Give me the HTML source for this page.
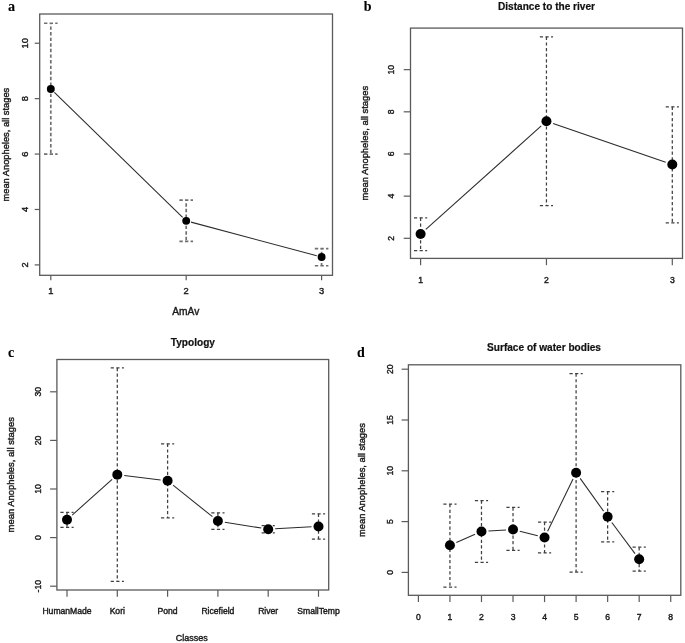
<!DOCTYPE html>
<html><head><meta charset="utf-8"><style>
html,body{margin:0;padding:0;background:#fff;}
body{width:685px;height:643px;overflow:hidden;font-family:"Liberation Sans",sans-serif;}
svg{display:block;will-change:transform;}
</style></head><body>
<svg width="685" height="643" viewBox="0 0 685 643">
<rect x="0" y="0" width="685" height="643" fill="#fff"/>
<rect x="39.7" y="14" width="292.8" height="261.3" fill="none" stroke="#5a5a5a" stroke-width="1.3"/>
<line x1="50.8" y1="275.3" x2="50.8" y2="280.3" stroke="#5a5a5a" stroke-width="1.2"/>
<text x="50.8" y="294.3" text-anchor="middle" font-size="9.3" font-weight="normal" font-family='"Liberation Sans", sans-serif' fill="#1a1a1a" stroke="#1a1a1a" stroke-width="0.4">1</text>
<line x1="186.2" y1="275.3" x2="186.2" y2="280.3" stroke="#5a5a5a" stroke-width="1.2"/>
<text x="186.2" y="294.3" text-anchor="middle" font-size="9.3" font-weight="normal" font-family='"Liberation Sans", sans-serif' fill="#1a1a1a" stroke="#1a1a1a" stroke-width="0.4">2</text>
<line x1="321.6" y1="275.3" x2="321.6" y2="280.3" stroke="#5a5a5a" stroke-width="1.2"/>
<text x="321.6" y="294.3" text-anchor="middle" font-size="9.3" font-weight="normal" font-family='"Liberation Sans", sans-serif' fill="#1a1a1a" stroke="#1a1a1a" stroke-width="0.4">3</text>
<line x1="34.7" y1="264.9" x2="39.7" y2="264.9" stroke="#5a5a5a" stroke-width="1.2"/>
<text transform="translate(28.4,264.9) rotate(-90)" text-anchor="middle" font-size="9.3" font-weight="normal" font-family='"Liberation Sans", sans-serif' fill="#1a1a1a" stroke="#1a1a1a" stroke-width="0.4">2</text>
<line x1="34.7" y1="209.48" x2="39.7" y2="209.48" stroke="#5a5a5a" stroke-width="1.2"/>
<text transform="translate(28.4,209.48) rotate(-90)" text-anchor="middle" font-size="9.3" font-weight="normal" font-family='"Liberation Sans", sans-serif' fill="#1a1a1a" stroke="#1a1a1a" stroke-width="0.4">4</text>
<line x1="34.7" y1="154.06" x2="39.7" y2="154.06" stroke="#5a5a5a" stroke-width="1.2"/>
<text transform="translate(28.4,154.06) rotate(-90)" text-anchor="middle" font-size="9.3" font-weight="normal" font-family='"Liberation Sans", sans-serif' fill="#1a1a1a" stroke="#1a1a1a" stroke-width="0.4">6</text>
<line x1="34.7" y1="98.64" x2="39.7" y2="98.64" stroke="#5a5a5a" stroke-width="1.2"/>
<text transform="translate(28.4,98.64) rotate(-90)" text-anchor="middle" font-size="9.3" font-weight="normal" font-family='"Liberation Sans", sans-serif' fill="#1a1a1a" stroke="#1a1a1a" stroke-width="0.4">8</text>
<line x1="34.7" y1="43.22" x2="39.7" y2="43.22" stroke="#5a5a5a" stroke-width="1.2"/>
<text transform="translate(28.4,43.22) rotate(-90)" text-anchor="middle" font-size="9.3" font-weight="normal" font-family='"Liberation Sans", sans-serif' fill="#1a1a1a" stroke="#1a1a1a" stroke-width="0.4">10</text>
<text transform="translate(8.6,144.65) rotate(-90)" text-anchor="middle" font-size="9.3" font-weight="normal" font-family='"Liberation Sans", sans-serif' fill="#1a1a1a" stroke="#1a1a1a" stroke-width="0.4">mean Anopheles, all stages</text>
<text x="185.75" y="314.6" text-anchor="middle" font-size="10.2" font-weight="normal" font-family='"Liberation Sans", sans-serif' fill="#1a1a1a" stroke="#1a1a1a" stroke-width="0.4">AmAv</text>
<text x="8" y="10.7" text-anchor="start" font-size="14.2" font-weight="bold" font-family='"Liberation Serif", serif' fill="#000" stroke="#000" stroke-width="0.1">a</text>
<line x1="50.8" y1="23.27" x2="50.8" y2="154.06" stroke="#707070" stroke-width="1.7" stroke-dasharray="3.4 2.2" stroke-dashoffset="2.4"/>
<line x1="44" y1="23.27" x2="57.6" y2="23.27" stroke="#707070" stroke-width="1.7" stroke-dasharray="3.4 2.2"/>
<line x1="44" y1="154.06" x2="57.6" y2="154.06" stroke="#707070" stroke-width="1.7" stroke-dasharray="3.4 2.2"/>
<line x1="186.2" y1="200.06" x2="186.2" y2="241.35" stroke="#707070" stroke-width="1.7" stroke-dasharray="3.4 2.2" stroke-dashoffset="2.4"/>
<line x1="179.4" y1="200.06" x2="193" y2="200.06" stroke="#707070" stroke-width="1.7" stroke-dasharray="3.4 2.2"/>
<line x1="179.4" y1="241.35" x2="193" y2="241.35" stroke="#707070" stroke-width="1.7" stroke-dasharray="3.4 2.2"/>
<line x1="321.6" y1="248.55" x2="321.6" y2="265.73" stroke="#707070" stroke-width="1.7" stroke-dasharray="3.4 2.2" stroke-dashoffset="2.4"/>
<line x1="314.8" y1="248.55" x2="328.4" y2="248.55" stroke="#707070" stroke-width="1.7" stroke-dasharray="3.4 2.2"/>
<line x1="314.8" y1="265.73" x2="328.4" y2="265.73" stroke="#707070" stroke-width="1.7" stroke-dasharray="3.4 2.2"/>
<line x1="54.38" y1="92.43" x2="182.62" y2="217.35" stroke="#2a2a2a" stroke-width="1.05"/>
<line x1="191.03" y1="222.13" x2="316.77" y2="255.71" stroke="#2a2a2a" stroke-width="1.05"/>
<circle cx="50.8" cy="88.94" r="3.95" fill="#000"/>
<circle cx="186.2" cy="220.84" r="3.95" fill="#000"/>
<circle cx="321.6" cy="257" r="3.95" fill="#000"/>
<rect x="410.5" y="28.1" width="272" height="230.3" fill="none" stroke="#5a5a5a" stroke-width="1.3"/>
<line x1="420.6" y1="258.4" x2="420.6" y2="265.2" stroke="#5a5a5a" stroke-width="1.2"/>
<text x="420.6" y="283.2" text-anchor="middle" font-size="8.6" font-weight="normal" font-family='"Liberation Sans", sans-serif' fill="#1a1a1a" stroke="#1a1a1a" stroke-width="0.4">1</text>
<line x1="546.45" y1="258.4" x2="546.45" y2="265.2" stroke="#5a5a5a" stroke-width="1.2"/>
<text x="546.45" y="283.2" text-anchor="middle" font-size="8.6" font-weight="normal" font-family='"Liberation Sans", sans-serif' fill="#1a1a1a" stroke="#1a1a1a" stroke-width="0.4">2</text>
<line x1="672.3" y1="258.4" x2="672.3" y2="265.2" stroke="#5a5a5a" stroke-width="1.2"/>
<text x="672.3" y="283.2" text-anchor="middle" font-size="8.6" font-weight="normal" font-family='"Liberation Sans", sans-serif' fill="#1a1a1a" stroke="#1a1a1a" stroke-width="0.4">3</text>
<line x1="403.7" y1="238.3" x2="410.5" y2="238.3" stroke="#5a5a5a" stroke-width="1.2"/>
<text transform="translate(394.4,238.3) rotate(-90)" text-anchor="middle" font-size="8.6" font-weight="normal" font-family='"Liberation Sans", sans-serif' fill="#1a1a1a" stroke="#1a1a1a" stroke-width="0.4">2</text>
<line x1="403.7" y1="196.14" x2="410.5" y2="196.14" stroke="#5a5a5a" stroke-width="1.2"/>
<text transform="translate(394.4,196.14) rotate(-90)" text-anchor="middle" font-size="8.6" font-weight="normal" font-family='"Liberation Sans", sans-serif' fill="#1a1a1a" stroke="#1a1a1a" stroke-width="0.4">4</text>
<line x1="403.7" y1="153.98" x2="410.5" y2="153.98" stroke="#5a5a5a" stroke-width="1.2"/>
<text transform="translate(394.4,153.98) rotate(-90)" text-anchor="middle" font-size="8.6" font-weight="normal" font-family='"Liberation Sans", sans-serif' fill="#1a1a1a" stroke="#1a1a1a" stroke-width="0.4">6</text>
<line x1="403.7" y1="111.82" x2="410.5" y2="111.82" stroke="#5a5a5a" stroke-width="1.2"/>
<text transform="translate(394.4,111.82) rotate(-90)" text-anchor="middle" font-size="8.6" font-weight="normal" font-family='"Liberation Sans", sans-serif' fill="#1a1a1a" stroke="#1a1a1a" stroke-width="0.4">8</text>
<line x1="403.7" y1="69.66" x2="410.5" y2="69.66" stroke="#5a5a5a" stroke-width="1.2"/>
<text transform="translate(394.4,69.66) rotate(-90)" text-anchor="middle" font-size="8.6" font-weight="normal" font-family='"Liberation Sans", sans-serif' fill="#1a1a1a" stroke="#1a1a1a" stroke-width="0.4">10</text>
<text transform="translate(368,143.25) rotate(-90)" text-anchor="middle" font-size="9.4" font-weight="normal" font-family='"Liberation Sans", sans-serif' fill="#1a1a1a" stroke="#1a1a1a" stroke-width="0.4">mean Anopheles, all stages</text>
<text x="546.5" y="9.6" text-anchor="middle" font-size="10.1" font-weight="bold" font-family='"Liberation Sans", sans-serif' fill="#111" stroke="#111" stroke-width="0.2">Distance to the river</text>
<text x="363.8" y="11.2" text-anchor="start" font-size="14.0" font-weight="bold" font-family='"Liberation Serif", serif' fill="#000" stroke="#000" stroke-width="0.1">b</text>
<line x1="420.6" y1="217.85" x2="420.6" y2="250.53" stroke="#404040" stroke-width="1.25" stroke-dasharray="3.2 2.4" stroke-dashoffset="0"/>
<line x1="414" y1="217.85" x2="427.2" y2="217.85" stroke="#404040" stroke-width="1.25" stroke-dasharray="3.2 2.4"/>
<line x1="414" y1="250.53" x2="427.2" y2="250.53" stroke="#404040" stroke-width="1.25" stroke-dasharray="3.2 2.4"/>
<line x1="546.45" y1="36.78" x2="546.45" y2="205.63" stroke="#404040" stroke-width="1.25" stroke-dasharray="3.2 2.4" stroke-dashoffset="0"/>
<line x1="539.85" y1="36.78" x2="553.05" y2="36.78" stroke="#404040" stroke-width="1.25" stroke-dasharray="3.2 2.4"/>
<line x1="539.85" y1="205.63" x2="553.05" y2="205.63" stroke="#404040" stroke-width="1.25" stroke-dasharray="3.2 2.4"/>
<line x1="672.3" y1="106.76" x2="672.3" y2="222.91" stroke="#404040" stroke-width="1.25" stroke-dasharray="3.2 2.4" stroke-dashoffset="0"/>
<line x1="665.7" y1="106.76" x2="678.9" y2="106.76" stroke="#404040" stroke-width="1.25" stroke-dasharray="3.2 2.4"/>
<line x1="665.7" y1="222.91" x2="678.9" y2="222.91" stroke="#404040" stroke-width="1.25" stroke-dasharray="3.2 2.4"/>
<line x1="425.81" y1="229.41" x2="541.24" y2="125.98" stroke="#2a2a2a" stroke-width="1.05"/>
<line x1="553.07" y1="123.58" x2="665.68" y2="162.25" stroke="#2a2a2a" stroke-width="1.05"/>
<circle cx="420.6" cy="234.08" r="5.0" fill="#000"/>
<circle cx="546.45" cy="121.31" r="5.0" fill="#000"/>
<circle cx="672.3" cy="164.52" r="5.0" fill="#000"/>
<rect x="56.9" y="359.5" width="271.8" height="230.5" fill="none" stroke="#5a5a5a" stroke-width="1.3"/>
<line x1="67" y1="590" x2="67" y2="596.8" stroke="#5a5a5a" stroke-width="1.2"/>
<text x="67" y="614.4" text-anchor="middle" font-size="8.6" font-weight="normal" font-family='"Liberation Sans", sans-serif' fill="#1a1a1a" stroke="#1a1a1a" stroke-width="0.4">HumanMade</text>
<line x1="117.3" y1="590" x2="117.3" y2="596.8" stroke="#5a5a5a" stroke-width="1.2"/>
<text x="117.3" y="614.4" text-anchor="middle" font-size="8.6" font-weight="normal" font-family='"Liberation Sans", sans-serif' fill="#1a1a1a" stroke="#1a1a1a" stroke-width="0.4">Kori</text>
<line x1="167.6" y1="590" x2="167.6" y2="596.8" stroke="#5a5a5a" stroke-width="1.2"/>
<text x="167.6" y="614.4" text-anchor="middle" font-size="8.6" font-weight="normal" font-family='"Liberation Sans", sans-serif' fill="#1a1a1a" stroke="#1a1a1a" stroke-width="0.4">Pond</text>
<line x1="217.9" y1="590" x2="217.9" y2="596.8" stroke="#5a5a5a" stroke-width="1.2"/>
<text x="217.9" y="614.4" text-anchor="middle" font-size="8.6" font-weight="normal" font-family='"Liberation Sans", sans-serif' fill="#1a1a1a" stroke="#1a1a1a" stroke-width="0.4">Ricefield</text>
<line x1="268.2" y1="590" x2="268.2" y2="596.8" stroke="#5a5a5a" stroke-width="1.2"/>
<text x="268.2" y="614.4" text-anchor="middle" font-size="8.6" font-weight="normal" font-family='"Liberation Sans", sans-serif' fill="#1a1a1a" stroke="#1a1a1a" stroke-width="0.4">River</text>
<line x1="318.5" y1="590" x2="318.5" y2="596.8" stroke="#5a5a5a" stroke-width="1.2"/>
<text x="318.5" y="614.4" text-anchor="middle" font-size="8.6" font-weight="normal" font-family='"Liberation Sans", sans-serif' fill="#1a1a1a" stroke="#1a1a1a" stroke-width="0.4">SmallTemp</text>
<line x1="50.1" y1="586.2" x2="56.9" y2="586.2" stroke="#5a5a5a" stroke-width="1.2"/>
<text transform="translate(41,586.2) rotate(-90)" text-anchor="middle" font-size="8.6" font-weight="normal" font-family='"Liberation Sans", sans-serif' fill="#1a1a1a" stroke="#1a1a1a" stroke-width="0.4">-10</text>
<line x1="50.1" y1="537.6" x2="56.9" y2="537.6" stroke="#5a5a5a" stroke-width="1.2"/>
<text transform="translate(41,537.6) rotate(-90)" text-anchor="middle" font-size="8.6" font-weight="normal" font-family='"Liberation Sans", sans-serif' fill="#1a1a1a" stroke="#1a1a1a" stroke-width="0.4">0</text>
<line x1="50.1" y1="489" x2="56.9" y2="489" stroke="#5a5a5a" stroke-width="1.2"/>
<text transform="translate(41,489) rotate(-90)" text-anchor="middle" font-size="8.6" font-weight="normal" font-family='"Liberation Sans", sans-serif' fill="#1a1a1a" stroke="#1a1a1a" stroke-width="0.4">10</text>
<line x1="50.1" y1="440.4" x2="56.9" y2="440.4" stroke="#5a5a5a" stroke-width="1.2"/>
<text transform="translate(41,440.4) rotate(-90)" text-anchor="middle" font-size="8.6" font-weight="normal" font-family='"Liberation Sans", sans-serif' fill="#1a1a1a" stroke="#1a1a1a" stroke-width="0.4">20</text>
<line x1="50.1" y1="391.8" x2="56.9" y2="391.8" stroke="#5a5a5a" stroke-width="1.2"/>
<text transform="translate(41,391.8) rotate(-90)" text-anchor="middle" font-size="8.6" font-weight="normal" font-family='"Liberation Sans", sans-serif' fill="#1a1a1a" stroke="#1a1a1a" stroke-width="0.4">30</text>
<text transform="translate(14.3,474.75) rotate(-90)" text-anchor="middle" font-size="9.45" font-weight="normal" font-family='"Liberation Sans", sans-serif' fill="#1a1a1a" stroke="#1a1a1a" stroke-width="0.4">mean Anopheles, all stages</text>
<text x="191.8" y="641.3" text-anchor="middle" font-size="9.0" font-weight="normal" font-family='"Liberation Sans", sans-serif' fill="#1a1a1a" stroke="#1a1a1a" stroke-width="0.4">Classes</text>
<text x="192.9" y="346" text-anchor="middle" font-size="10.1" font-weight="bold" font-family='"Liberation Sans", sans-serif' fill="#111" stroke="#111" stroke-width="0.2">Typology</text>
<text x="7.9" y="357.3" text-anchor="start" font-size="14.0" font-weight="bold" font-family='"Liberation Serif", serif' fill="#000" stroke="#000" stroke-width="0.1">c</text>
<line x1="67" y1="512.38" x2="67" y2="527.39" stroke="#404040" stroke-width="1.25" stroke-dasharray="3.2 2.4" stroke-dashoffset="0"/>
<line x1="60.4" y1="512.38" x2="73.6" y2="512.38" stroke="#404040" stroke-width="1.25" stroke-dasharray="3.2 2.4"/>
<line x1="60.4" y1="527.39" x2="73.6" y2="527.39" stroke="#404040" stroke-width="1.25" stroke-dasharray="3.2 2.4"/>
<line x1="117.3" y1="367.99" x2="117.3" y2="581.34" stroke="#404040" stroke-width="1.25" stroke-dasharray="3.2 2.4" stroke-dashoffset="0"/>
<line x1="110.7" y1="367.99" x2="123.9" y2="367.99" stroke="#404040" stroke-width="1.25" stroke-dasharray="3.2 2.4"/>
<line x1="110.7" y1="581.34" x2="123.9" y2="581.34" stroke="#404040" stroke-width="1.25" stroke-dasharray="3.2 2.4"/>
<line x1="167.6" y1="443.8" x2="167.6" y2="517.92" stroke="#404040" stroke-width="1.25" stroke-dasharray="3.2 2.4" stroke-dashoffset="0"/>
<line x1="161" y1="443.8" x2="174.2" y2="443.8" stroke="#404040" stroke-width="1.25" stroke-dasharray="3.2 2.4"/>
<line x1="161" y1="517.92" x2="174.2" y2="517.92" stroke="#404040" stroke-width="1.25" stroke-dasharray="3.2 2.4"/>
<line x1="217.9" y1="512.86" x2="217.9" y2="529.34" stroke="#404040" stroke-width="1.25" stroke-dasharray="3.2 2.4" stroke-dashoffset="0"/>
<line x1="211.3" y1="512.86" x2="224.5" y2="512.86" stroke="#404040" stroke-width="1.25" stroke-dasharray="3.2 2.4"/>
<line x1="211.3" y1="529.34" x2="224.5" y2="529.34" stroke="#404040" stroke-width="1.25" stroke-dasharray="3.2 2.4"/>
<line x1="268.2" y1="525.6" x2="268.2" y2="532.89" stroke="#404040" stroke-width="1.25" stroke-dasharray="3.2 2.4" stroke-dashoffset="0"/>
<line x1="261.6" y1="525.6" x2="274.8" y2="525.6" stroke="#404040" stroke-width="1.25" stroke-dasharray="3.2 2.4"/>
<line x1="261.6" y1="532.89" x2="274.8" y2="532.89" stroke="#404040" stroke-width="1.25" stroke-dasharray="3.2 2.4"/>
<line x1="318.5" y1="513.79" x2="318.5" y2="539.06" stroke="#404040" stroke-width="1.25" stroke-dasharray="3.2 2.4" stroke-dashoffset="0"/>
<line x1="311.9" y1="513.79" x2="325.1" y2="513.79" stroke="#404040" stroke-width="1.25" stroke-dasharray="3.2 2.4"/>
<line x1="311.9" y1="539.06" x2="325.1" y2="539.06" stroke="#404040" stroke-width="1.25" stroke-dasharray="3.2 2.4"/>
<line x1="72.21" y1="515.04" x2="112.09" y2="479.33" stroke="#2a2a2a" stroke-width="1.05"/>
<line x1="124.25" y1="475.5" x2="160.65" y2="479.9" stroke="#2a2a2a" stroke-width="1.05"/>
<line x1="173.06" y1="485.12" x2="212.44" y2="516.7" stroke="#2a2a2a" stroke-width="1.05"/>
<line x1="224.81" y1="522.19" x2="261.29" y2="528.08" stroke="#2a2a2a" stroke-width="1.05"/>
<line x1="275.19" y1="528.81" x2="311.51" y2="526.81" stroke="#2a2a2a" stroke-width="1.05"/>
<circle cx="67" cy="519.72" r="5.0" fill="#000"/>
<circle cx="117.3" cy="474.66" r="5.0" fill="#000"/>
<circle cx="167.6" cy="480.74" r="5.0" fill="#000"/>
<circle cx="217.9" cy="521.08" r="5.0" fill="#000"/>
<circle cx="268.2" cy="529.19" r="5.0" fill="#000"/>
<circle cx="318.5" cy="526.42" r="5.0" fill="#000"/>
<rect x="408.4" y="364.8" width="272.4" height="230.5" fill="none" stroke="#5a5a5a" stroke-width="1.3"/>
<line x1="418.4" y1="595.3" x2="418.4" y2="602.1" stroke="#5a5a5a" stroke-width="1.2"/>
<text x="418.4" y="620.2" text-anchor="middle" font-size="8.6" font-weight="normal" font-family='"Liberation Sans", sans-serif' fill="#1a1a1a" stroke="#1a1a1a" stroke-width="0.4">0</text>
<line x1="449.94" y1="595.3" x2="449.94" y2="602.1" stroke="#5a5a5a" stroke-width="1.2"/>
<text x="449.94" y="620.2" text-anchor="middle" font-size="8.6" font-weight="normal" font-family='"Liberation Sans", sans-serif' fill="#1a1a1a" stroke="#1a1a1a" stroke-width="0.4">1</text>
<line x1="481.48" y1="595.3" x2="481.48" y2="602.1" stroke="#5a5a5a" stroke-width="1.2"/>
<text x="481.48" y="620.2" text-anchor="middle" font-size="8.6" font-weight="normal" font-family='"Liberation Sans", sans-serif' fill="#1a1a1a" stroke="#1a1a1a" stroke-width="0.4">2</text>
<line x1="513.02" y1="595.3" x2="513.02" y2="602.1" stroke="#5a5a5a" stroke-width="1.2"/>
<text x="513.02" y="620.2" text-anchor="middle" font-size="8.6" font-weight="normal" font-family='"Liberation Sans", sans-serif' fill="#1a1a1a" stroke="#1a1a1a" stroke-width="0.4">3</text>
<line x1="544.56" y1="595.3" x2="544.56" y2="602.1" stroke="#5a5a5a" stroke-width="1.2"/>
<text x="544.56" y="620.2" text-anchor="middle" font-size="8.6" font-weight="normal" font-family='"Liberation Sans", sans-serif' fill="#1a1a1a" stroke="#1a1a1a" stroke-width="0.4">4</text>
<line x1="576.1" y1="595.3" x2="576.1" y2="602.1" stroke="#5a5a5a" stroke-width="1.2"/>
<text x="576.1" y="620.2" text-anchor="middle" font-size="8.6" font-weight="normal" font-family='"Liberation Sans", sans-serif' fill="#1a1a1a" stroke="#1a1a1a" stroke-width="0.4">5</text>
<line x1="607.64" y1="595.3" x2="607.64" y2="602.1" stroke="#5a5a5a" stroke-width="1.2"/>
<text x="607.64" y="620.2" text-anchor="middle" font-size="8.6" font-weight="normal" font-family='"Liberation Sans", sans-serif' fill="#1a1a1a" stroke="#1a1a1a" stroke-width="0.4">6</text>
<line x1="639.18" y1="595.3" x2="639.18" y2="602.1" stroke="#5a5a5a" stroke-width="1.2"/>
<text x="639.18" y="620.2" text-anchor="middle" font-size="8.6" font-weight="normal" font-family='"Liberation Sans", sans-serif' fill="#1a1a1a" stroke="#1a1a1a" stroke-width="0.4">7</text>
<line x1="670.72" y1="595.3" x2="670.72" y2="602.1" stroke="#5a5a5a" stroke-width="1.2"/>
<text x="670.72" y="620.2" text-anchor="middle" font-size="8.6" font-weight="normal" font-family='"Liberation Sans", sans-serif' fill="#1a1a1a" stroke="#1a1a1a" stroke-width="0.4">8</text>
<line x1="401.6" y1="572.4" x2="408.4" y2="572.4" stroke="#5a5a5a" stroke-width="1.2"/>
<text transform="translate(392.7,572.4) rotate(-90)" text-anchor="middle" font-size="8.6" font-weight="normal" font-family='"Liberation Sans", sans-serif' fill="#1a1a1a" stroke="#1a1a1a" stroke-width="0.4">0</text>
<line x1="401.6" y1="521.6" x2="408.4" y2="521.6" stroke="#5a5a5a" stroke-width="1.2"/>
<text transform="translate(392.7,521.6) rotate(-90)" text-anchor="middle" font-size="8.6" font-weight="normal" font-family='"Liberation Sans", sans-serif' fill="#1a1a1a" stroke="#1a1a1a" stroke-width="0.4">5</text>
<line x1="401.6" y1="470.8" x2="408.4" y2="470.8" stroke="#5a5a5a" stroke-width="1.2"/>
<text transform="translate(392.7,470.8) rotate(-90)" text-anchor="middle" font-size="8.6" font-weight="normal" font-family='"Liberation Sans", sans-serif' fill="#1a1a1a" stroke="#1a1a1a" stroke-width="0.4">10</text>
<line x1="401.6" y1="420" x2="408.4" y2="420" stroke="#5a5a5a" stroke-width="1.2"/>
<text transform="translate(392.7,420) rotate(-90)" text-anchor="middle" font-size="8.6" font-weight="normal" font-family='"Liberation Sans", sans-serif' fill="#1a1a1a" stroke="#1a1a1a" stroke-width="0.4">15</text>
<line x1="401.6" y1="369.2" x2="408.4" y2="369.2" stroke="#5a5a5a" stroke-width="1.2"/>
<text transform="translate(392.7,369.2) rotate(-90)" text-anchor="middle" font-size="8.6" font-weight="normal" font-family='"Liberation Sans", sans-serif' fill="#1a1a1a" stroke="#1a1a1a" stroke-width="0.4">20</text>
<text transform="translate(365.3,480.05) rotate(-90)" text-anchor="middle" font-size="9.3" font-weight="normal" font-family='"Liberation Sans", sans-serif' fill="#1a1a1a" stroke="#1a1a1a" stroke-width="0.4">mean Anopheles, all stages</text>
<text x="544" y="351.3" text-anchor="middle" font-size="10.1" font-weight="bold" font-family='"Liberation Sans", sans-serif' fill="#111" stroke="#111" stroke-width="0.2">Surface of water bodies</text>
<text x="357" y="357.4" text-anchor="start" font-size="14.0" font-weight="bold" font-family='"Liberation Serif", serif' fill="#000" stroke="#000" stroke-width="0.1">d</text>
<line x1="449.94" y1="504.12" x2="449.94" y2="587.03" stroke="#404040" stroke-width="1.25" stroke-dasharray="3.2 2.4" stroke-dashoffset="0"/>
<line x1="443.34" y1="504.12" x2="456.54" y2="504.12" stroke="#404040" stroke-width="1.25" stroke-dasharray="3.2 2.4"/>
<line x1="443.34" y1="587.03" x2="456.54" y2="587.03" stroke="#404040" stroke-width="1.25" stroke-dasharray="3.2 2.4"/>
<line x1="481.48" y1="500.57" x2="481.48" y2="562.44" stroke="#404040" stroke-width="1.25" stroke-dasharray="3.2 2.4" stroke-dashoffset="0"/>
<line x1="474.88" y1="500.57" x2="488.08" y2="500.57" stroke="#404040" stroke-width="1.25" stroke-dasharray="3.2 2.4"/>
<line x1="474.88" y1="562.44" x2="488.08" y2="562.44" stroke="#404040" stroke-width="1.25" stroke-dasharray="3.2 2.4"/>
<line x1="513.02" y1="507.48" x2="513.02" y2="550.35" stroke="#404040" stroke-width="1.25" stroke-dasharray="3.2 2.4" stroke-dashoffset="0"/>
<line x1="506.42" y1="507.48" x2="519.62" y2="507.48" stroke="#404040" stroke-width="1.25" stroke-dasharray="3.2 2.4"/>
<line x1="506.42" y1="550.35" x2="519.62" y2="550.35" stroke="#404040" stroke-width="1.25" stroke-dasharray="3.2 2.4"/>
<line x1="544.56" y1="522.01" x2="544.56" y2="552.89" stroke="#404040" stroke-width="1.25" stroke-dasharray="3.2 2.4" stroke-dashoffset="0"/>
<line x1="537.96" y1="522.01" x2="551.16" y2="522.01" stroke="#404040" stroke-width="1.25" stroke-dasharray="3.2 2.4"/>
<line x1="537.96" y1="552.89" x2="551.16" y2="552.89" stroke="#404040" stroke-width="1.25" stroke-dasharray="3.2 2.4"/>
<line x1="576.1" y1="373.57" x2="576.1" y2="572.1" stroke="#404040" stroke-width="1.25" stroke-dasharray="3.2 2.4" stroke-dashoffset="0"/>
<line x1="569.5" y1="373.57" x2="582.7" y2="373.57" stroke="#404040" stroke-width="1.25" stroke-dasharray="3.2 2.4"/>
<line x1="569.5" y1="572.1" x2="582.7" y2="572.1" stroke="#404040" stroke-width="1.25" stroke-dasharray="3.2 2.4"/>
<line x1="607.64" y1="491.63" x2="607.64" y2="541.92" stroke="#404040" stroke-width="1.25" stroke-dasharray="3.2 2.4" stroke-dashoffset="0"/>
<line x1="601.04" y1="491.63" x2="614.24" y2="491.63" stroke="#404040" stroke-width="1.25" stroke-dasharray="3.2 2.4"/>
<line x1="601.04" y1="541.92" x2="614.24" y2="541.92" stroke="#404040" stroke-width="1.25" stroke-dasharray="3.2 2.4"/>
<line x1="639.18" y1="547.2" x2="639.18" y2="571.18" stroke="#404040" stroke-width="1.25" stroke-dasharray="3.2 2.4" stroke-dashoffset="0"/>
<line x1="632.58" y1="547.2" x2="645.78" y2="547.2" stroke="#404040" stroke-width="1.25" stroke-dasharray="3.2 2.4"/>
<line x1="632.58" y1="571.18" x2="645.78" y2="571.18" stroke="#404040" stroke-width="1.25" stroke-dasharray="3.2 2.4"/>
<line x1="456.35" y1="542.46" x2="475.07" y2="534.26" stroke="#2a2a2a" stroke-width="1.05"/>
<line x1="488.47" y1="531.03" x2="506.03" y2="529.95" stroke="#2a2a2a" stroke-width="1.05"/>
<line x1="519.8" y1="531.25" x2="537.78" y2="535.82" stroke="#2a2a2a" stroke-width="1.05"/>
<line x1="547.62" y1="531.26" x2="573.04" y2="479.02" stroke="#2a2a2a" stroke-width="1.05"/>
<line x1="580.17" y1="478.42" x2="603.57" y2="511.13" stroke="#2a2a2a" stroke-width="1.05"/>
<line x1="611.82" y1="522.44" x2="635" y2="553.58" stroke="#2a2a2a" stroke-width="1.05"/>
<circle cx="449.94" cy="545.27" r="5.0" fill="#000"/>
<circle cx="481.48" cy="531.46" r="5.0" fill="#000"/>
<circle cx="513.02" cy="529.52" r="5.0" fill="#000"/>
<circle cx="544.56" cy="537.55" r="5.0" fill="#000"/>
<circle cx="576.1" cy="472.73" r="5.0" fill="#000"/>
<circle cx="607.64" cy="516.82" r="5.0" fill="#000"/>
<circle cx="639.18" cy="559.19" r="5.0" fill="#000"/>
</svg>
</body></html>
